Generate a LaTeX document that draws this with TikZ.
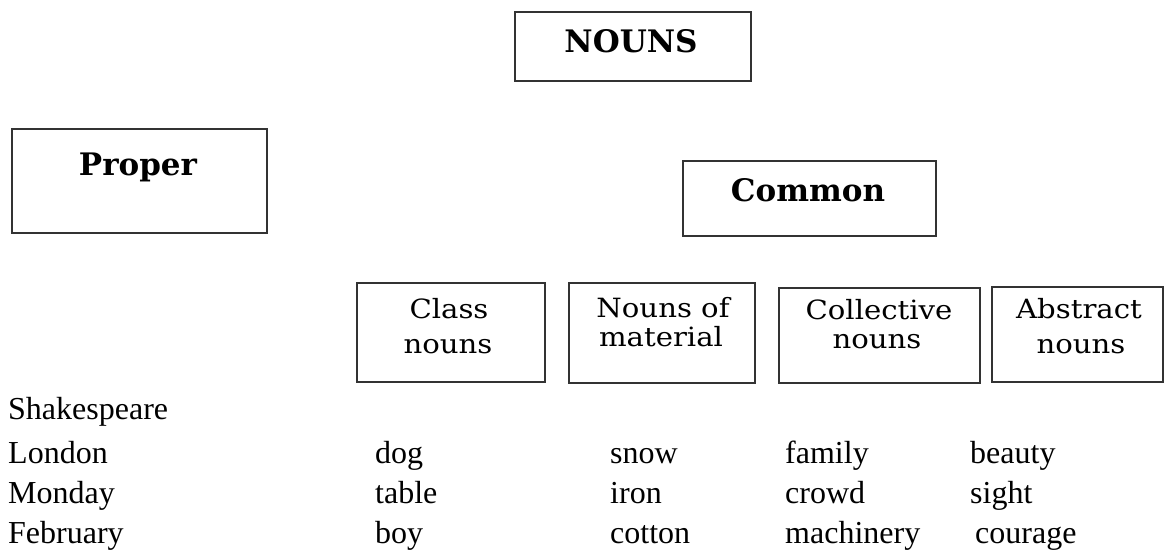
\documentclass[tikz,border=0pt]{standalone}
\usepackage{fontspec}
\setmainfont{Liberation Serif}
\newfontfamily\boxfont{DejaVu Serif}
\newfontfamily\subfont[FakeStretch=1.1]{DejaVu Serif}
\begin{document}
\begin{tikzpicture}[x=1pt,y=-1pt,
  box/.style={draw=black!80,line width=1.4pt},
  headtxt/.style={inner sep=0pt,anchor=base,font=\boxfont\bfseries\fontsize{31}{31}\selectfont},
  subtxt/.style={inner sep=0pt,anchor=base,font=\subfont\fontsize{26.5}{26.5}\selectfont},
  word/.style={inner sep=0pt,anchor=base west,font=\fontsize{32}{32}\selectfont}]
\useasboundingbox (0,0) rectangle (1167,554);
% boxes
\draw[box] (515,12) rectangle (751,81) coordinate (nounsbox);
\node[headtxt] (nouns) at (631,52) {NOUNS};
\draw[box] (12,129) rectangle (267,233) coordinate (properbox);
\node[headtxt] (proper) at (138,175) {Proper};
\draw[box] (683,161) rectangle (936,236) coordinate (commonbox);
\node[headtxt] (common) at (808,201) {Common};
\draw[box] (357,283) rectangle (545,382) coordinate (classbox);
\node[subtxt] (class1) at (449,318) {Class};
\node[subtxt] (class2) at (448,353) {nouns};
\draw[box] (569,283) rectangle (755,383) coordinate (materialbox);
\node[subtxt] (mat1) at (663,317) {Nouns of};
\node[subtxt] (mat2) at (661,346) {material};
\draw[box] (779,288) rectangle (980,383) coordinate (collectivebox);
\node[subtxt] (col1) at (879,319) {Collective};
\node[subtxt] (col2) at (877,348) {nouns};
\draw[box] (992,287) rectangle (1163,382) coordinate (abstractbox);
\node[subtxt] (abs1) at (1079,318) {Abstract};
\node[subtxt] (abs2) at (1081,353) {nouns};
% word lists
\node[word] (w1) at (8,419) {Shakespeare};
\node[word] (w2) at (8,463) {London};
\node[word] (w3) at (8,503) {Monday};
\node[word] (w4) at (8,543) {February};
\node[word] (c1) at (375,463) {dog};
\node[word] (c2) at (375,503) {table};
\node[word] (c3) at (375,543) {boy};
\node[word] (m1) at (610,463) {snow};
\node[word] (m2) at (610,503) {iron};
\node[word] (m3) at (610,543) {cotton};
\node[word] (k1) at (785,463) {family};
\node[word] (k2) at (785,503) {crowd};
\node[word] (k3) at (785,543) {machinery};
\node[word] (a1) at (970,463) {beauty};
\node[word] (a2) at (970,503) {sight};
\node[word] (a3) at (975,543) {courage};
\end{tikzpicture}
\end{document}
